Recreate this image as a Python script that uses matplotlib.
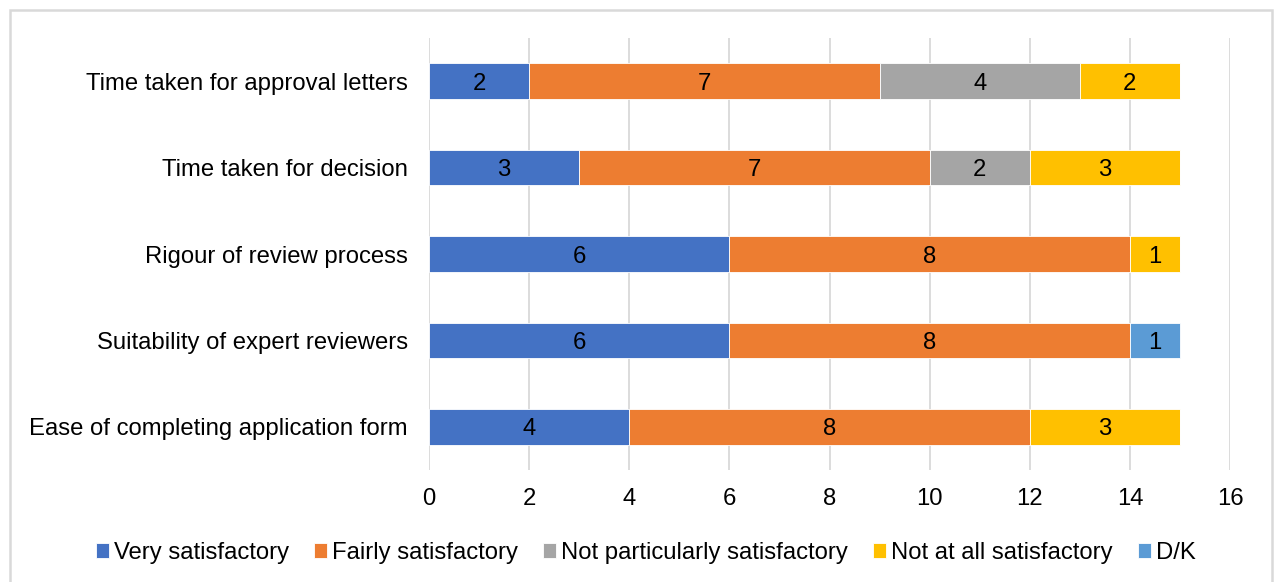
import matplotlib.pyplot as plt
from matplotlib.patches import Rectangle
import numpy as np

plt.rcParams['font.family'] = ['Liberation Sans', 'DejaVu Sans']

categories = [
    "Ease of completing application form",
    "Suitability of expert reviewers",
    "Rigour of review process",
    "Time taken for decision",
    "Time taken for approval letters",
]
series_names = [
    "Very satisfactory",
    "Fairly satisfactory",
    "Not particularly satisfactory",
    "Not at all satisfactory",
    "D/K",
]
very = [4, 6, 6, 3, 2]
fairly = [8, 8, 8, 7, 7]
not_particularly = [0, 0, 0, 2, 4]
not_at_all = [3, 0, 1, 3, 2]
dont_know = [0, 1, 0, 0, 0]

colors = ["#4472C4", "#ED7D31", "#A5A5A5", "#FFC000", "#5B9BD5"]
fs = 17.2

fig = plt.figure(figsize=(12.74, 5.82), dpi=100)
ax = fig.add_axes([0.3367, 0.1924, 0.9655 - 0.3367, 0.9347 - 0.1924])

# light frame around the chart (open at the bottom edge)
fig.patches.append(Rectangle((10 / 1274, -10 / 582), 1262 / 1274, 582 / 582,
                             transform=fig.transFigure, fill=False,
                             edgecolor="#d9d9d9", linewidth=1.8))

y = np.arange(len(categories))
left = np.zeros(len(categories))
for name, vals, col in zip(series_names,
                           [very, fairly, not_particularly, not_at_all, dont_know],
                           colors):
    vals = np.array(vals, dtype=float)
    bars = ax.barh(y, vals, left=left, height=0.41, color=col, label=name,
                   edgecolor="white", linewidth=0.6, zorder=3)
    for b, v in zip(bars, vals):
        if v > 0:
            ax.text(b.get_x() + b.get_width() / 2, b.get_y() + b.get_height() / 2,
                    f"{int(v)}", ha="center", va="center_baseline", fontsize=fs,
                    color="black", zorder=4)
    left += vals

ax.set_xlim(0, 16)
ax.set_ylim(-0.5, len(categories) - 0.5)
ax.set_xticks(range(0, 17, 2))
ax.set_yticks(y)
ax.set_yticklabels(categories)
ax.tick_params(axis="both", length=0, labelsize=fs)
ax.tick_params(axis="x", pad=13)
ax.tick_params(axis="y", pad=15)
ax.grid(axis="x", color="#d9d9d9", linewidth=1.3, zorder=0)
for s in ax.spines.values():
    s.set_visible(False)

ax.legend(loc="center", bbox_to_anchor=(0.507, 29 / 582),
          bbox_transform=fig.transFigure, ncol=5, frameon=False,
          fontsize=fs, handlelength=0.55, handleheight=0.55,
          handletextpad=0.2, columnspacing=1.05)

fig.savefig("out.png", dpi=100)
